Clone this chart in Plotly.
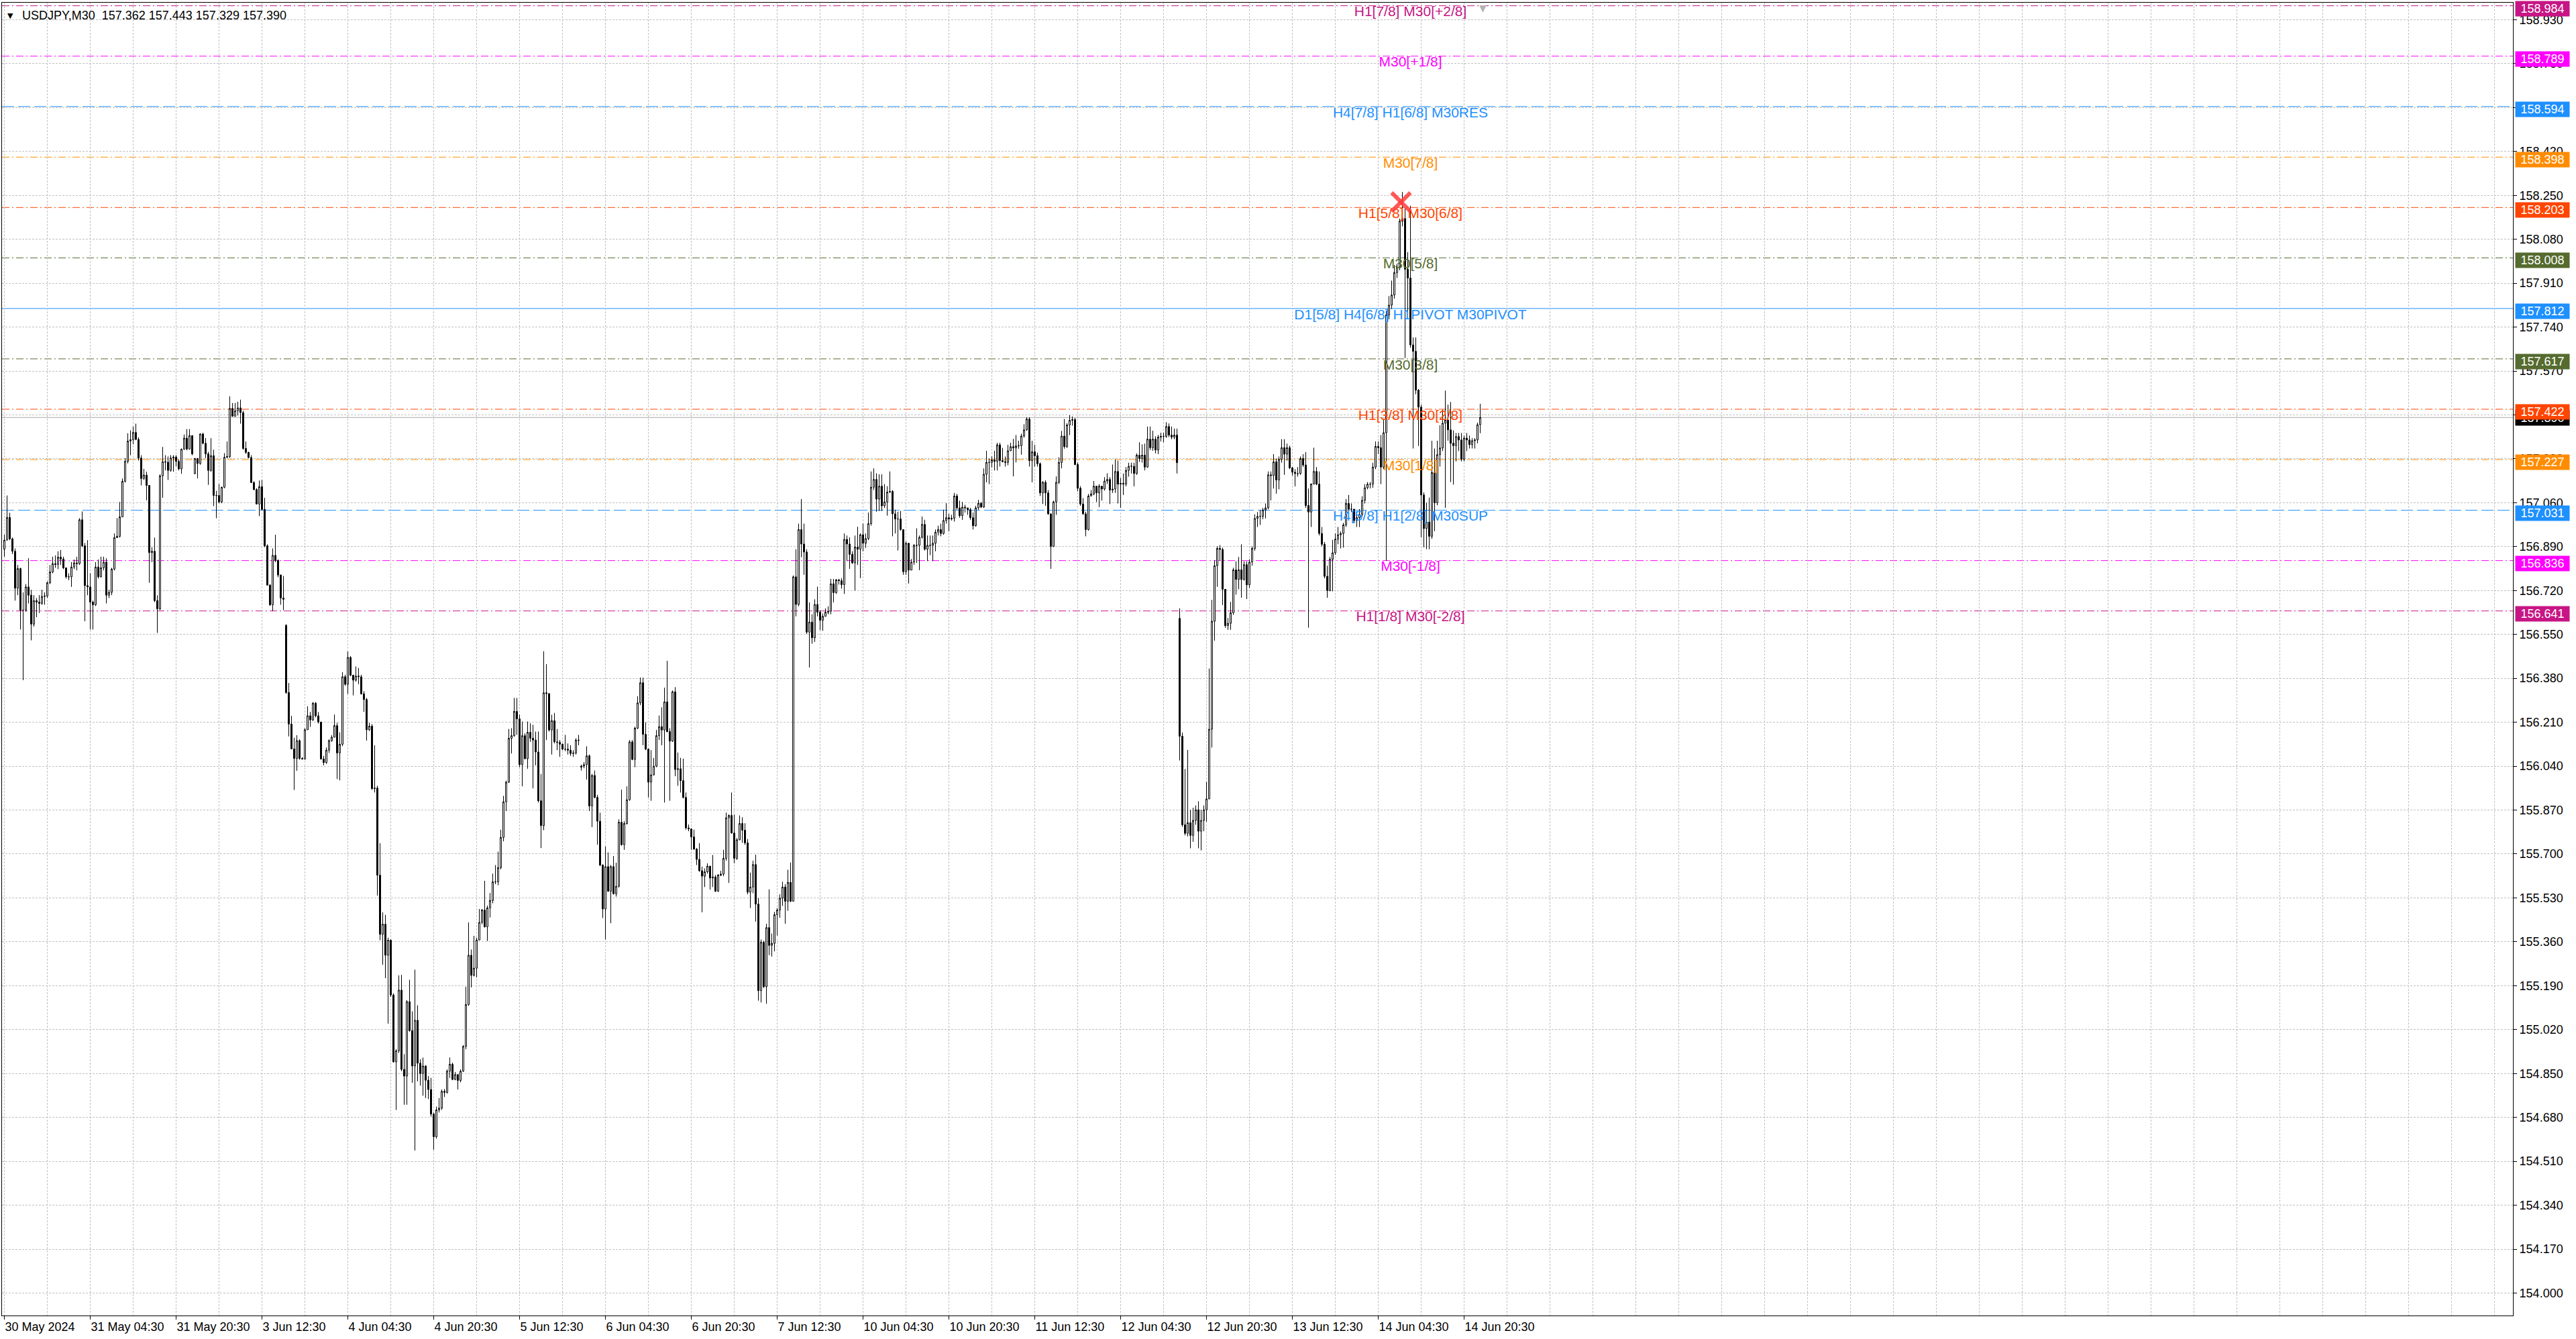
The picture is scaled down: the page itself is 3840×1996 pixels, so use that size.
import plotly.graph_objects as go

FONT = "Liberation Sans, Arial, sans-serif"

symbol = "USDJPY,M30"
first_open = 156.880

closes = [
    156.915, 157.003, 156.920, 156.872, 156.729, 156.805, 156.644, 156.644, 156.734, 156.702,
    156.590, 156.681, 156.675, 156.670, 156.697, 156.699, 156.750, 156.792, 156.824, 156.821,
    156.849, 156.842, 156.808, 156.773, 156.773, 156.811, 156.827, 156.824, 156.994, 156.893,
    156.739, 156.734, 156.675, 156.665, 156.811, 156.773, 156.808, 156.830, 156.702, 156.713,
    156.803, 156.925, 156.930, 157.005, 157.143, 157.220, 157.299, 157.304, 157.332, 157.305,
    157.233, 157.154, 157.167, 157.127, 156.867, 156.872, 156.681, 156.649, 157.164, 157.219,
    157.217, 157.185, 157.233, 157.237, 157.220, 157.191, 157.267, 157.310, 157.268, 157.320,
    157.249, 157.231, 157.212, 157.326, 157.290, 157.249, 157.185, 157.242, 157.088, 157.088,
    157.063, 157.120, 157.236, 157.239, 157.425, 157.395, 157.416, 157.427, 157.409, 157.270,
    157.255, 157.235, 157.138, 157.111, 157.055, 157.122, 157.034, 156.893, 156.741, 156.665,
    156.856, 156.837, 156.780, 156.691, 156.686, 156.325, 156.203, 156.107, 156.070, 156.139,
    156.070, 156.068, 156.181, 156.235, 156.219, 156.284, 156.235, 156.211, 156.068, 156.054,
    156.102, 156.139, 156.152, 156.197, 156.091, 156.125, 156.386, 156.357, 156.461, 156.392,
    156.373, 156.389, 156.386, 156.320, 156.298, 156.181, 156.195, 155.953, 155.955, 155.618,
    155.389, 155.428, 155.308, 155.366, 155.154, 154.895, 154.938, 155.173, 154.866, 154.840,
    155.128, 155.016, 154.879, 155.056, 154.890, 154.850, 154.879, 154.824, 154.788, 154.693,
    154.605, 154.709, 154.716, 154.781, 154.777, 154.859, 154.886, 154.827, 154.846, 154.823,
    154.859, 154.955, 155.117, 155.308, 155.230, 155.258, 155.367, 155.435, 155.483, 155.418,
    155.491, 155.520, 155.592, 155.592, 155.647, 155.764, 155.902, 155.978, 156.148, 156.158,
    156.252, 156.223, 156.046, 156.158, 156.069, 156.171, 156.148, 156.141, 156.095, 155.906,
    155.810, 156.324, 156.321, 156.180, 156.216, 156.134, 156.132, 156.125, 156.106, 156.106,
    156.102, 156.089, 156.091, 156.141, 156.140, 156.040, 156.046, 156.080, 155.886, 156.004,
    155.919, 155.827, 155.657, 155.487, 155.651, 155.556, 155.651, 155.546, 155.575, 155.823,
    155.736, 155.818, 155.910, 156.134, 156.066, 156.187, 156.285, 156.363, 156.163, 156.106,
    155.978, 156.006, 156.040, 156.158, 156.193, 156.180, 156.289, 156.174, 156.137, 156.328,
    156.027, 156.030, 155.984, 155.919, 155.801, 155.797, 155.766, 155.719, 155.679, 155.635,
    155.614, 155.631, 155.653, 155.607, 155.611, 155.556, 155.618, 155.622, 155.683, 155.840,
    155.849, 155.781, 155.683, 155.755, 155.818, 155.792, 155.743, 155.552, 155.572, 155.659,
    155.506, 155.171, 155.358, 155.186, 155.415, 155.346, 155.354, 155.465, 155.483, 155.529,
    155.572, 155.517, 155.590, 155.517, 156.773, 156.666, 156.956, 156.900, 156.869, 156.559,
    156.598, 156.537, 156.666, 156.636, 156.605, 156.620, 156.636, 156.640, 156.746, 156.712,
    156.761, 156.758, 156.743, 156.918, 156.900, 156.860, 156.827, 156.888, 156.880, 156.936,
    156.903, 156.921, 156.979, 157.120, 157.150, 157.074, 157.124, 157.048, 157.063, 157.101,
    157.104, 157.017, 156.997, 156.997, 156.956, 156.793, 156.903, 156.799, 156.830, 156.895,
    156.895, 156.926, 156.976, 156.880, 156.895, 156.895, 156.903, 156.946, 156.956, 156.941,
    156.991, 157.002, 156.997, 157.000, 157.086, 157.040, 157.010, 157.043, 157.040, 157.033,
    157.002, 156.971, 157.040, 157.058, 157.043, 157.170, 157.216, 157.216, 157.226, 157.220,
    157.284, 157.223, 157.219, 157.216, 157.261, 157.277, 157.272, 157.280, 157.281, 157.318,
    157.342, 157.384, 157.223, 157.257, 157.242, 157.211, 157.098, 157.139, 157.098, 157.017,
    156.891, 157.063, 157.139, 157.216, 157.318, 157.277, 157.361, 157.379, 157.382, 157.208,
    157.116, 157.055, 157.017, 156.956, 157.086, 157.094, 157.124, 157.098, 157.124, 157.113,
    157.144, 157.150, 157.109, 157.113, 157.181, 157.132, 157.135, 157.132, 157.185, 157.201,
    157.201, 157.173, 157.244, 157.231, 157.244, 157.198, 157.306, 157.273, 157.306, 157.264,
    157.314, 157.317, 157.317, 157.355, 157.322, 157.314, 157.322, 157.215, 156.156, 155.813,
    155.780, 155.821, 155.772, 155.830, 155.871, 155.788, 155.830, 155.871, 155.913, 156.183,
    156.601, 156.816, 156.883, 156.879, 156.725, 156.584, 156.593, 156.634, 156.800, 156.763,
    156.800, 156.763, 156.820, 156.742, 156.830, 156.883, 156.999, 157.007, 157.007, 157.032,
    157.040, 157.168, 157.165, 157.218, 157.148, 157.228, 157.273, 157.248, 157.273, 157.195,
    157.178, 157.173, 157.173, 157.231, 157.206, 157.049, 157.024, 157.132, 157.181, 157.132,
    156.941, 156.899, 156.775, 156.720, 156.841, 156.866, 156.919, 156.936, 156.941, 156.974,
    157.057, 157.035, 157.035, 156.991, 157.002, 157.015, 157.069, 157.118, 157.132, 157.132,
    157.198, 157.278, 157.273, 157.198, 157.331, 157.787, 157.825, 157.864, 157.951, 157.973,
    158.150, 158.160, 157.964, 157.930, 157.671, 157.646, 157.496, 157.430, 157.090, 156.960,
    156.985, 156.930, 157.177, 157.060, 157.246, 157.272, 157.368, 157.380, 157.342, 157.290,
    157.281, 157.316, 157.303, 157.228, 157.310, 157.303, 157.285, 157.300, 157.303, 157.362,
    157.390,
]

highs = [
    156.936, 157.088, 157.021, 156.925, 156.883, 156.819, 156.808, 156.713, 156.745, 156.845,
    156.723, 156.702, 156.691, 156.702, 156.723, 156.713, 156.755, 156.819, 156.851, 156.856,
    156.872, 156.877, 156.851, 156.798, 156.787, 156.830, 156.840, 156.851, 157.000, 157.026,
    156.904, 156.915, 156.787, 156.681, 156.830, 156.840, 156.851, 156.851, 156.845, 156.723,
    156.808, 156.941, 157.000, 157.063, 157.154, 157.233, 157.329, 157.340, 157.355, 157.366,
    157.313, 157.244, 157.191, 157.180, 157.122, 156.888, 156.925, 156.702, 157.170, 157.276,
    157.244, 157.239, 157.244, 157.244, 157.244, 157.228, 157.270, 157.324, 157.345, 157.345,
    157.310, 157.233, 157.233, 157.329, 157.331, 157.310, 157.257, 157.310, 157.265, 157.106,
    157.132, 157.122, 157.252, 157.297, 157.472, 157.446, 157.446, 157.451, 157.459, 157.416,
    157.297, 157.257, 157.244, 157.143, 157.116, 157.146, 157.148, 157.079, 156.899, 156.745,
    156.883, 156.936, 156.840, 156.782, 156.776, 156.590, 156.362, 156.235, 156.150, 156.160,
    156.144, 156.075, 156.187, 156.272, 156.250, 156.288, 156.288, 156.250, 156.203, 156.080,
    156.112, 156.144, 156.160, 156.240, 156.208, 156.171, 156.404, 156.394, 156.484, 156.466,
    156.394, 156.426, 156.420, 156.394, 156.330, 156.304, 156.208, 156.203, 156.121, 155.964,
    155.742, 155.474, 155.464, 155.376, 155.369, 155.160, 154.944, 155.230, 155.232, 154.925,
    155.134, 155.213, 155.091, 155.252, 155.114, 154.905, 154.912, 154.882, 154.840, 154.833,
    154.699, 154.722, 154.755, 154.788, 154.790, 154.866, 154.912, 154.892, 154.856, 154.833,
    154.866, 154.960, 155.186, 155.435, 155.330, 155.383, 155.376, 155.487, 155.487, 155.596,
    155.500, 155.549, 155.624, 155.657, 155.709, 155.794, 155.925, 155.984, 156.184, 156.187,
    156.304, 156.304, 156.239, 156.213, 156.167, 156.213, 156.206, 156.200, 156.174, 156.174,
    156.010, 156.485, 156.435, 156.318, 156.239, 156.246, 156.184, 156.141, 156.128, 156.161,
    156.128, 156.121, 156.102, 156.148, 156.161, 156.046, 156.056, 156.117, 156.085, 156.010,
    156.023, 155.929, 155.860, 155.660, 155.729, 155.706, 155.657, 155.692, 155.666, 155.834,
    155.949, 155.827, 155.962, 156.141, 156.141, 156.193, 156.311, 156.383, 156.383, 156.210,
    156.108, 156.102, 156.072, 156.180, 156.236, 156.268, 156.344, 156.448, 156.187, 156.333,
    156.346, 156.093, 156.072, 156.069, 155.938, 155.814, 155.797, 155.794, 155.723, 155.742,
    155.651, 155.644, 155.664, 155.618, 155.696, 155.618, 155.622, 155.635, 155.716, 155.860,
    155.853, 155.938, 155.853, 155.762, 155.849, 155.842, 155.819, 155.758, 155.628, 155.674,
    155.697, 155.529, 155.369, 155.364, 155.430, 155.563, 155.392, 155.476, 155.491, 155.544,
    155.593, 155.583, 155.639, 155.667, 156.778, 156.880, 156.979, 157.074, 156.979, 156.880,
    156.674, 156.628, 156.686, 156.735, 156.643, 156.631, 156.651, 156.659, 156.765, 156.765,
    156.765, 156.765, 156.768, 156.941, 156.933, 156.926, 156.872, 156.933, 156.967, 156.941,
    156.979, 156.941, 157.022, 157.181, 157.193, 157.174, 157.170, 157.170, 157.132, 157.124,
    157.181, 157.109, 157.033, 157.025, 157.028, 156.956, 156.910, 156.900, 156.842, 156.900,
    156.961, 156.933, 157.007, 156.994, 156.933, 156.933, 156.933, 156.956, 156.971, 156.979,
    157.033, 157.058, 157.017, 157.013, 157.098, 157.094, 157.068, 157.063, 157.052, 157.040,
    157.040, 157.022, 157.048, 157.071, 157.063, 157.193, 157.261, 157.231, 157.239, 157.261,
    157.292, 157.292, 157.272, 157.239, 157.284, 157.292, 157.307, 157.322, 157.300, 157.327,
    157.364, 157.391, 157.391, 157.300, 157.284, 157.254, 157.216, 157.144, 157.147, 157.109,
    157.017, 157.068, 157.162, 157.236, 157.338, 157.384, 157.368, 157.399, 157.394, 157.388,
    157.216, 157.124, 157.078, 157.025, 157.094, 157.109, 157.144, 157.104, 157.132, 157.120,
    157.159, 157.174, 157.159, 157.208, 157.228, 157.223, 157.156, 157.173, 157.198, 157.215,
    157.215, 157.215, 157.251, 157.294, 157.286, 157.289, 157.355, 157.355, 157.339, 157.317,
    157.322, 157.331, 157.331, 157.372, 157.367, 157.355, 157.347, 157.347, 156.651, 156.170,
    156.029, 156.103, 155.871, 155.879, 155.888, 155.904, 155.871, 155.888, 155.979, 156.418,
    156.684, 156.836, 156.891, 156.896, 156.886, 156.626, 156.614, 156.676, 156.808, 156.833,
    156.850, 156.899, 156.833, 156.833, 156.841, 156.891, 157.015, 157.024, 157.032, 157.040,
    157.057, 157.181, 157.181, 157.248, 157.231, 157.239, 157.306, 157.306, 157.289, 157.281,
    157.198, 157.190, 157.198, 157.239, 157.248, 157.256, 157.115, 157.135, 157.273, 157.198,
    157.181, 156.966, 156.908, 156.816, 156.850, 156.916, 156.941, 156.966, 156.949, 156.982,
    157.074, 157.090, 157.057, 156.999, 157.015, 157.035, 157.085, 157.132, 157.140, 157.140,
    157.215, 157.297, 157.297, 157.322, 157.380, 157.803, 157.860, 157.920, 157.980, 157.985,
    158.160, 158.263, 158.200, 158.030, 158.210, 157.700, 157.700, 157.500, 157.440, 157.100,
    157.060, 157.080, 157.300, 157.270, 157.300, 157.360, 157.420, 157.494, 157.440, 157.450,
    157.340, 157.330, 157.330, 157.330, 157.320, 157.330, 157.320, 157.310, 157.310, 157.370,
    157.443,
]

lows = [
    156.851, 156.915, 156.915, 156.861, 156.681, 156.702, 156.569, 156.373, 156.638, 156.670,
    156.527, 156.580, 156.617, 156.633, 156.665, 156.665, 156.691, 156.745, 156.787, 156.808,
    156.803, 156.819, 156.803, 156.766, 156.760, 156.734, 156.803, 156.798, 156.819, 156.888,
    156.601, 156.702, 156.569, 156.569, 156.660, 156.766, 156.771, 156.798, 156.670, 156.691,
    156.702, 156.798, 156.925, 156.925, 157.005, 157.138, 157.212, 157.244, 157.286, 157.302,
    157.223, 157.127, 157.148, 157.069, 156.750, 156.830, 156.675, 156.556, 156.644, 157.079,
    157.185, 157.148, 157.180, 157.180, 157.201, 157.185, 157.172, 157.265, 157.263, 157.265,
    157.244, 157.170, 157.154, 157.207, 157.286, 157.233, 157.129, 157.180, 157.047, 157.000,
    157.058, 157.058, 157.116, 157.233, 157.233, 157.393, 157.393, 157.398, 157.366, 157.265,
    157.249, 157.233, 157.136, 157.108, 157.053, 157.008, 157.031, 156.888, 156.739, 156.660,
    156.640, 156.830, 156.771, 156.665, 156.644, 156.320, 156.155, 156.105, 155.948, 156.022,
    156.065, 156.065, 156.065, 156.181, 156.192, 156.215, 156.229, 156.205, 156.065, 156.043,
    156.049, 156.091, 156.134, 156.155, 155.990, 155.985, 156.118, 156.351, 156.320, 156.389,
    156.314, 156.367, 156.357, 156.317, 156.250, 156.139, 156.176, 155.948, 155.938, 155.539,
    155.366, 155.271, 155.219, 155.043, 155.147, 154.892, 154.709, 154.929, 154.859, 154.729,
    154.729, 155.012, 154.814, 154.552, 154.820, 154.803, 154.764, 154.755, 154.751, 154.683,
    154.555, 154.598, 154.699, 154.709, 154.759, 154.772, 154.833, 154.824, 154.824, 154.788,
    154.816, 154.856, 154.944, 155.112, 155.183, 155.226, 155.222, 155.366, 155.428, 155.415,
    155.363, 155.454, 155.509, 155.583, 155.579, 155.640, 155.749, 155.866, 155.975, 156.089,
    156.154, 156.161, 156.036, 155.962, 156.066, 156.030, 156.134, 155.954, 156.043, 155.899,
    155.723, 155.792, 156.141, 156.174, 156.085, 156.128, 156.102, 156.076, 156.102, 156.098,
    156.085, 156.080, 156.076, 156.085, 156.121, 156.023, 156.032, 155.988, 155.866, 155.804,
    155.916, 155.736, 155.653, 155.452, 155.369, 155.553, 155.432, 155.543, 155.535, 155.570,
    155.732, 155.716, 155.814, 155.906, 156.063, 156.036, 156.184, 156.276, 156.121, 156.102,
    155.919, 155.906, 156.004, 156.036, 156.141, 156.121, 155.899, 156.171, 155.906, 156.134,
    156.001, 155.964, 155.938, 155.915, 155.794, 155.788, 155.716, 155.716, 155.657, 155.631,
    155.474, 155.572, 155.624, 155.562, 155.572, 155.553, 155.553, 155.614, 155.614, 155.674,
    155.588, 155.779, 155.664, 155.677, 155.753, 155.743, 155.735, 155.544, 155.491, 155.548,
    155.438, 155.132, 155.125, 155.181, 155.120, 155.308, 155.303, 155.323, 155.384, 155.453,
    155.499, 155.430, 155.480, 155.514, 155.578, 156.620, 156.659, 156.849, 156.781, 156.552,
    156.422, 156.514, 156.521, 156.620, 156.567, 156.564, 156.625, 156.628, 156.628, 156.674,
    156.707, 156.743, 156.727, 156.707, 156.834, 156.804, 156.823, 156.720, 156.819, 156.768,
    156.872, 156.885, 156.915, 156.971, 157.109, 157.025, 157.028, 157.028, 157.040, 157.010,
    157.098, 156.930, 156.941, 156.875, 156.952, 156.781, 156.781, 156.747, 156.819, 156.819,
    156.827, 156.799, 156.921, 156.875, 156.834, 156.857, 156.834, 156.872, 156.933, 156.930,
    156.936, 156.979, 156.949, 156.991, 156.987, 157.033, 157.002, 156.994, 157.022, 157.013,
    156.994, 156.956, 156.967, 157.033, 157.040, 157.040, 157.139, 157.132, 157.196, 157.185,
    157.185, 157.200, 157.216, 157.200, 157.205, 157.269, 157.162, 157.216, 157.269, 157.246,
    157.312, 157.338, 157.200, 157.139, 157.200, 157.200, 157.086, 157.055, 157.048, 157.013,
    156.804, 156.888, 157.013, 157.132, 157.193, 157.269, 157.272, 157.322, 157.358, 157.205,
    157.104, 157.048, 157.013, 156.930, 156.952, 157.086, 157.089, 157.063, 157.043, 157.068,
    157.107, 157.132, 157.055, 157.098, 157.098, 157.057, 157.040, 157.090, 157.123, 157.161,
    157.173, 157.123, 157.168, 157.218, 157.215, 157.185, 157.195, 157.264, 157.261, 157.251,
    157.248, 157.297, 157.294, 157.311, 157.314, 157.306, 157.306, 157.173, 156.062, 155.805,
    155.772, 155.768, 155.722, 155.747, 155.813, 155.722, 155.714, 155.788, 155.825, 155.954,
    156.112, 156.526, 156.734, 156.836, 156.664, 156.576, 156.568, 156.568, 156.626, 156.704,
    156.725, 156.692, 156.758, 156.687, 156.730, 156.816, 156.874, 156.966, 156.974, 156.996,
    156.999, 157.035, 157.069, 157.115, 157.095, 157.112, 157.215, 157.168, 157.223, 157.190,
    157.165, 157.123, 157.161, 157.168, 157.198, 157.040, 156.576, 156.966, 157.132, 157.128,
    156.933, 156.891, 156.767, 156.692, 156.717, 156.717, 156.858, 156.899, 156.883, 156.886,
    156.966, 157.029, 157.024, 156.982, 156.966, 156.966, 157.007, 157.057, 157.112, 157.115,
    157.118, 157.190, 157.248, 157.132, 157.190, 156.835, 157.770, 157.810, 157.850, 157.930,
    157.960, 158.130, 157.620, 157.800, 157.660, 157.270, 157.480, 157.280, 156.926, 156.887,
    156.880, 156.880, 156.920, 156.950, 157.050, 157.200, 157.260, 157.040, 157.300, 157.140,
    157.130, 157.220, 157.260, 157.220, 157.220, 157.260, 157.270, 157.270, 157.270, 157.290,
    157.329,
]

# opens that differ from the previous close (gaps seen on the chart)
gap_opens = {71: 157.173, 105: 156.585, 215: 156.036, 438: 156.612}

tick_bars = list(range(0, 545, 32))
tick_texts = ["30 May 2024", "31 May 04:30", "31 May 20:30", "3 Jun 12:30", "4 Jun 04:30",
              "4 Jun 20:30", "5 Jun 12:30", "6 Jun 04:30", "6 Jun 20:30", "7 Jun 12:30",
              "10 Jun 04:30", "10 Jun 20:30", "11 Jun 12:30", "12 Jun 04:30", "12 Jun 20:30",
              "13 Jun 12:30", "14 Jun 04:30", "14 Jun 20:30"]

levels = [158.984, 158.789, 158.594, 158.398, 158.203, 158.008, 157.812,
          157.617, 157.422, 157.227, 157.031, 156.836, 156.641]
level_texts = ["H1[7/8] M30[+2/8]", "M30[+1/8]", "H4[7/8] H1[6/8] M30RES", "M30[7/8]",
               "H1[5/8] M30[6/8]", "M30[5/8]", "D1[5/8] H4[6/8] H1PIVOT M30PIVOT",
               "M30[3/8]", "H1[3/8] M30[2/8]", "M30[1/8]", "H4[5/8] H1[2/8] M30SUP",
               "M30[-1/8]", "H1[1/8] M30[-2/8]"]
level_colors = ["#C71585", "#FF00FF", "#1E90FF", "#FF8C00", "#FF4500", "#556B2F", "#1E90FF",
                "#556B2F", "#FF4500", "#FF8C00", "#1E90FF", "#FF00FF", "#C71585"]
level_styles = ["dashdot", "dashdot", "dash", "dashdot", "dashdot", "dashdot", "solid",
                "dashdot", "dashdot", "dashdot", "dash", "dashdot", "dashdot"]

# ---------------------------------------------------------------------------
n = min(len(closes), len(highs), len(lows))
xs = list(range(n))
opens = []
for i in range(n):
    if i == 0:
        opens.append(first_open)
    elif i in gap_opens:
        opens.append(gap_opens[i])
    else:
        opens.append(closes[i - 1])
hi = [max(highs[i], opens[i], closes[i]) for i in range(n)]
lo = [min(lows[i], opens[i], closes[i]) for i in range(n)]

DASHES = {"dashdot": "11px,4px,2px,4px", "dash": "18px,6px", "solid": "solid"}
GRID = "#C0C0C0"
LABEL_BAR = 524

fig = go.Figure()

# level captions (drawn under candles)
fig.add_trace(go.Scatter(
    x=[LABEL_BAR] * len(levels), y=levels, mode="text", text=level_texts,
    textposition="bottom center",
    textfont=dict(family=FONT, size=21, color=level_colors),
    hoverinfo="skip", showlegend=False, cliponaxis=False))

fig.add_trace(go.Candlestick(
    x=xs, open=opens, high=hi, low=lo, close=closes[:n],
    increasing=dict(line=dict(color="black", width=1), fillcolor="white"),
    decreasing=dict(line=dict(color="black", width=1), fillcolor="black"),
    whiskerwidth=0, showlegend=False, hoverinfo="skip"))

shapes = []
for lv, col, st in zip(levels, level_colors, level_styles):
    shapes.append(dict(type="line", xref="paper", x0=0, x1=1, yref="y", y0=lv, y1=lv,
                       layer="below", line=dict(color=col, width=1, dash=DASHES[st])))
# bid line
shapes.append(dict(type="line", xref="paper", x0=0, x1=1, yref="y", y0=closes[n - 1],
                   y1=closes[n - 1], layer="below", line=dict(color="#A8A8A8", width=1)))
# red cross at the highest high
peak_i = max(range(n), key=lambda i: hi[i])
peak_v = hi[peak_i]
for (a, b, c, d) in [(-16, -29, 12, -1), (-16, -1, 12, -29)]:
    shapes.append(dict(type="line", xref="x", yref="y", xsizemode="pixel", ysizemode="pixel",
                       xanchor=peak_i, yanchor=peak_v, x0=a, y0=b, x1=c, y1=d, layer="above",
                       line=dict(color="rgba(255,60,60,0.85)", width=6)))

annotations = []
# current price box (black) under the level boxes
annotations.append(dict(xref="paper", x=1, xanchor="left", xshift=3, yref="y", y=closes[n - 1],
                        yanchor="middle", yshift=-1, text=f"{closes[n - 1]:.3f}", showarrow=False,
                        font=dict(family=FONT, size=18, color="white"), bgcolor="black",
                        width=78, height=20, borderpad=1))
for lv, col in zip(levels, level_colors):
    annotations.append(dict(xref="paper", x=1, xanchor="left", xshift=3, yref="y", y=lv,
                            yanchor="middle", yshift=-4, text=f"{lv:.3f}", showarrow=False,
                            font=dict(family=FONT, size=18, color="white"), bgcolor=col,
                            width=78, height=20, borderpad=1))
# header
annotations.append(dict(xref="paper", x=0, xanchor="left", xshift=6, yref="paper", y=1,
                        yanchor="middle", yshift=-19, text="\u25BC", showarrow=False,
                        font=dict(family="DejaVu Sans", size=11, color="black")))
annotations.append(dict(xref="paper", x=0, xanchor="left", xshift=28, yref="paper", y=1,
                        yanchor="middle", yshift=-19, showarrow=False,
                        text=f"{symbol}  {opens[n-1]:.3f} {hi[n-1]:.3f} {lo[n-1]:.3f} {closes[n-1]:.3f}",
                        font=dict(family=FONT, size=18, color="black")))
# chart shift marker
annotations.append(dict(xref="x", x=n, yref="paper", y=1, yanchor="top", yshift=2,
                        text="\u25BC", showarrow=False,
                        font=dict(family="DejaVu Sans", size=14, color="#B4B4B4")))

minor_vals = [v for v in range(16, 936, 16) if v not in tick_bars]

fig.update_layout(
    width=3840, height=1996, autosize=False,
    margin=dict(l=3, r=94, t=4, b=35, pad=0),
    paper_bgcolor="white", plot_bgcolor="white",
    showlegend=False, shapes=shapes, annotations=annotations,
    font=dict(family=FONT, size=18, color="black"),
    xaxis=dict(range=[-0.875, 934.875], tickmode="array", tickvals=tick_bars, ticktext=tick_texts,
               ticks="outside", ticklen=5, tickcolor="black", tickwidth=1,
               ticklabelposition="outside right",
               tickfont=dict(family=FONT, size=18, color="black"),
               showgrid=True, gridcolor=GRID, gridwidth=1, griddash="3px,2px",
               minor=dict(tickmode="array", tickvals=minor_vals, showgrid=True, gridcolor=GRID,
                          gridwidth=1, griddash="3px,2px", ticks=""),
               showline=True, linecolor="black", linewidth=1, mirror=True, zeroline=False,
               rangeslider=dict(visible=False)),
    yaxis=dict(range=[153.913, 158.996], side="right", tickmode="linear", tick0=154.0, dtick=0.17,
               tickformat=".3f", ticks="outside", ticklen=5, tickcolor="black", tickwidth=1,
               tickfont=dict(family=FONT, size=18, color="black"),
               showgrid=True, gridcolor=GRID, gridwidth=1, griddash="3px,2px",
               showline=True, linecolor="black", linewidth=1, mirror=True, zeroline=False),
)

fig.write_html("out.html", config={"displayModeBar": False},
               post_script="document.body.style.margin='0px';")
